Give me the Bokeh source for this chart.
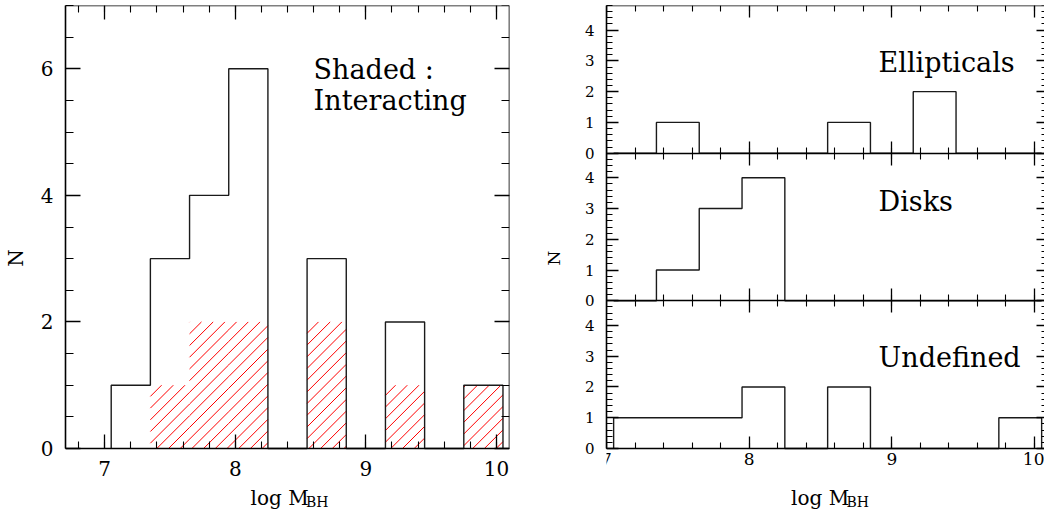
import math

from bokeh.plotting import figure
from bokeh.layouts import row
from bokeh.models import (Range1d, LinearAxis, FixedTicker, SingleIntervalTicker,
                          CustomJSTickFormatter)
from bokeh.core.properties import value
from bokeh.embed import file_html
from bokeh.resources import INLINE

# Histogram bins in log M_BH (bin width 0.3 dex) and the counts per bin
bin_edges = [7.05, 7.35, 7.65, 7.95, 8.25, 8.55, 8.85, 9.15, 9.45, 9.75, 10.05]
n_total = [1, 3, 4, 6, 0, 3, 0, 2, 0, 1]
n_interacting = [0, 1, 2, 2, 0, 2, 0, 1, 0, 1]
n_ellipticals = [0, 1, 0, 0, 0, 1, 0, 2, 0, 0]
n_disks = [0, 1, 3, 4, 0, 0, 0, 0, 0, 0]
n_undefined = [1, 1, 1, 2, 0, 2, 0, 0, 0, 1]

panel_names = ["Ellipticals", "Disks", "Undefined"]
panel_counts = [n_ellipticals, n_disks, n_undefined]
panel_y_ticks = [0, 1, 2, 3, 4]

FONT = "DejaVu Serif"
INK = "black"
BLANK = CustomJSTickFormatter(code="return ''")


def step_outline(edges, counts):
    """Vertices of an open step outline for a histogram."""
    xs, ys = [edges[0]], [0]
    for i, c in enumerate(counts):
        xs += [edges[i], edges[i + 1]]
        ys += [c, c]
    xs.append(edges[-1])
    ys.append(0)
    return xs, ys


def hatch_segments(edges, counts, px_x, px_y, spacing_px=11.7, phase=6.772):
    """45-degree (on screen) shading lines clipped to each histogram bar."""
    m = px_x / px_y                 # data slope that looks like 45 degrees
    d = spacing_px / px_x           # horizontal spacing in data units
    x0, y0, x1, y1 = [], [], [], []
    for lo, hi, t in zip(edges[:-1], edges[1:], counts):
        if t <= 0:
            continue
        k_start = math.floor((lo - t / m - phase) / d)
        k_stop = math.ceil((hi - phase) / d)
        for k in range(k_start, k_stop + 1):
            c = phase + k * d
            xa, xb = max(lo, c), min(hi, c + t / m)
            if xb - xa > 1e-9:
                x0.append(xa); y0.append(m * (xa - c))
                x1.append(xb); y1.append(m * (xb - c))
    return x0, y0, x1, y1


def style_axis(ax, major, minor, both=False, labels=True, size="20px",
               standoff=10, line=True):
    ax.axis_line_color = INK if line else None
    ax.axis_line_width = 1.6
    ax.major_tick_in = major
    ax.major_tick_out = major if both else 0
    ax.minor_tick_in = minor
    ax.minor_tick_out = minor if both else 0
    ax.major_tick_line_color = INK
    ax.major_tick_line_width = 1.3
    ax.minor_tick_line_color = INK
    ax.minor_tick_line_width = 1.1
    ax.major_label_text_font = FONT
    ax.major_label_text_font_size = size
    ax.major_label_standoff = standoff if labels else 0
    ax.major_label_text_color = INK
    if not labels:
        ax.formatter = BLANK
    ax.axis_label_text_font = FONT
    ax.axis_label_text_font_style = "normal"
    ax.axis_label_text_color = INK


def axis_title(p, x_main, x_sub, y_main, y_sub, **kw):
    p.text(x=[x_main], y=[y_main], text=["log M"], text_font=value(FONT),
           text_font_size="20px", text_color=INK, text_baseline="alphabetic",
           text_align="left", **kw)
    p.text(x=[x_sub], y=[y_sub], text=["BH"], text_font=value(FONT),
           text_font_size="14px", text_color=INK, text_baseline="alphabetic",
           text_align="left", **kw)


# ---------------- left: all objects, interacting ones hatched ----------------
# the frame runs down to the bottom edge so that the x labels sit inside it
L_X = (6.7, 10.1)
L_W, L_H = 444, 443                 # pixel size of the 6.7..10.1 x 0..7 area
L_EXT = 7 * 62 / L_H
left = figure(width=540, height=510, x_range=Range1d(*L_X),
              y_range=Range1d(-L_EXT, 7), output_backend="svg",
              toolbar_location=None, x_axis_location=None,
              min_border_left=65, min_border_right=31,
              min_border_top=5, min_border_bottom=0)
left.outline_line_color = None
left.grid.visible = False
left.background_fill_color = "white"
left.border_fill_color = "white"

x_tk_left = SingleIntervalTicker(interval=1, num_minor_ticks=5)
y_tk_left = SingleIntervalTicker(interval=2, num_minor_ticks=4)

bx = LinearAxis(ticker=x_tk_left, fixed_location=0)
style_axis(bx, 14, 7, size="20px", standoff=12)
left.add_layout(bx, "below")

ly = left.yaxis[0]
ly.ticker = y_tk_left
ly.bounds = (0, 7)
style_axis(ly, 15, 8, size="20px", standoff=12)
ly.axis_label = "N"
ly.axis_label_text_font_size = "20px"
ly.axis_label_standoff = 10

top_ax = LinearAxis(ticker=x_tk_left, fixed_location=7)
style_axis(top_ax, 14, 7, labels=False)
left.add_layout(top_ax, "above")
right_ax = LinearAxis(ticker=y_tk_left, fixed_location=10.1, bounds=(0, 7))
style_axis(right_ax, 15, 8, labels=False)
left.add_layout(right_ax, "right")

hx0, hy0, hx1, hy1 = hatch_segments(bin_edges, n_interacting,
                                    L_W / (L_X[1] - L_X[0]), L_H / 7)
left.segment(x0=hx0, y0=hy0, x1=hx1, y1=hy1, line_color="#ff0000",
             line_width=1.0)
xs, ys = step_outline(bin_edges, n_total)
left.line(xs, ys, line_color="#1a1a1a", line_width=1.4)

left.text(x=[8.6, 8.6], y=[5.99, 5.50], text=["Shaded :", "Interacting"],
          text_font=value(FONT), text_font_size="27px", text_color=INK,
          text_baseline="alphabetic", text_align="left")

axis_title(left, 8.117, 8.542, -0.790, -0.853)

# ---------------- right: three stacked panels sharing one frame ----------------
# each panel has its own y range whose 0..4.8 fills one third of the panel area
R_EXT = 14.4 * 62 / 443
X_END = 10.07
right = figure(width=504, height=510, x_range=Range1d(7, X_END),
               y_range=Range1d(-4.8 - R_EXT, 9.6), output_backend="svg",
               toolbar_location=None, x_axis_location=None,
               min_border_left=65, min_border_right=0,
               min_border_top=5, min_border_bottom=0)
right.extra_y_ranges = {"top": Range1d(-9.6 - R_EXT, 4.8),
                        "bot": Range1d(-R_EXT, 14.4)}
right.outline_line_color = None
right.grid.visible = False
right.background_fill_color = "white"
right.border_fill_color = "white"

range_names = ["top", "default", "bot"]
offsets = [4.8, 0, -4.8]          # where each panel's zero sits on the default range
major_y = [t + off for off in offsets for t in panel_y_ticks]
minor_y = [round(-4.8 + 0.2 * i, 1) for i in range(73)]
y_tk_right = FixedTicker(ticks=major_y, minor_ticks=minor_y)
x_tk_right = SingleIntervalTicker(interval=1, num_minor_ticks=5)

rl = right.yaxis[0]
rl.ticker = y_tk_right
rl.bounds = (-4.8, 9.6)
style_axis(rl, 12, 6, size="15px", standoff=12)
rl.formatter = CustomJSTickFormatter(
    code="const v = tick - 4.8*Math.floor((tick + 0.4)/4.8); return Math.round(v).toString()")
rl.axis_label = "N"
rl.axis_label_text_font_size = "17px"
rl.axis_label_standoff = 18

rr = LinearAxis(ticker=y_tk_right, fixed_location=X_END, bounds=(-4.8, 9.6))
style_axis(rr, 8, 3, labels=False, line=False)
right.add_layout(rr, "right")

ra = LinearAxis(ticker=x_tk_right, fixed_location=9.6)
style_axis(ra, 12, 6, labels=False)
right.add_layout(ra, "above")

rb = LinearAxis(ticker=x_tk_right, fixed_location=-4.8)
style_axis(rb, 12, 6, size="17px", standoff=4)
right.add_layout(rb, "below")

# panel separators with ticks on both sides
for loc in [4.8, 0]:
    sep = LinearAxis(ticker=x_tk_right, fixed_location=loc)
    style_axis(sep, 12, 6, both=True, labels=False)
    right.add_layout(sep, "below")

label_y = [2.95, 3.24, 2.95]
for name, counts, rn, ly_ in zip(panel_names, panel_counts, range_names, label_y):
    xs, ys = step_outline(bin_edges, counts)
    right.line(xs, ys, line_color="#1a1a1a", line_width=1.4, y_range_name=rn)
    right.text(x=[8.907], y=[ly_], text=[name], y_range_name=rn,
               text_font=value(FONT), text_font_size="27px", text_color=INK,
               text_baseline="alphabetic", text_align="left")

axis_title(right, 8.294, 8.682, -1.625, -1.755, y_range_name="bot")

layout = row(left, right)
open("out.html", "w").write(file_html(layout, INLINE))
